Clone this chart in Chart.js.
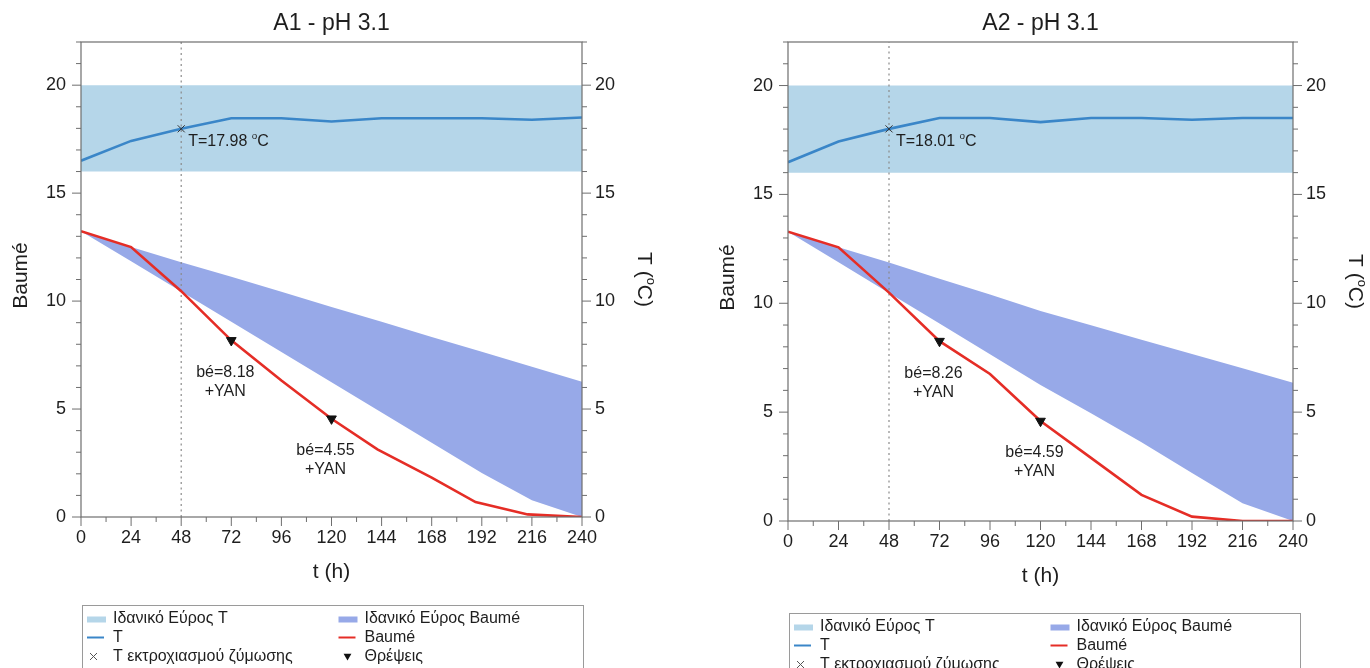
<!DOCTYPE html>
<html>
<head>
<meta charset="utf-8">
<script src="https://cdn.jsdelivr.net/npm/chart.js@4.4.0/dist/chart.umd.min.js"></script>
<style>
  html, body { margin: 0; padding: 0; background: #fff; }
  body { width: 1370px; height: 668px; position: relative; overflow: hidden; }
  .panel { position: absolute; top: 0; width: 685px; height: 668px; }
</style>
</head>
<body>
<div class="panel" style="left:0"><canvas id="chartA1" width="685" height="668"></canvas></div>
<div class="panel" style="left:685px"><canvas id="chartA2" width="685" height="668"></canvas></div>
<script>
// sampling times (h) and axis ticks
const hours = [0, 24, 48, 72, 96, 120, 144, 168, 192, 216, 240];
const xMajorTicks = [0, 24, 48, 72, 96, 120, 144, 168, 192, 216, 240];
const yMajorTicks = [0, 5, 10, 15, 20];
const xMinorStep = 12;
const yMinorStep = 1;
const yMax = 22;

// ideal temperature window (°C)
const tempRange = [16, 20];

// A1 - pH 3.1
const a1Temp = [16.5, 17.42, 17.98, 18.47, 18.47, 18.32, 18.47, 18.47, 18.47, 18.4, 18.5];
const a1BaumeHours = [0, 24, 48, 72, 96, 120, 142, 168, 189, 214, 240];
const a1Baume = [13.24, 12.5, 10.46, 8.18, 6.32, 4.55, 3.13, 1.82, 0.69, 0.12, 0];
const a1BaumeHigh = [13.24, 12.5, 11.8, 11.13, 10.43, 9.73, 9.04, 8.34, 7.65, 6.96, 6.27];
const a1BaumeLow = [13.24, 11.84, 10.44, 9.04, 7.64, 6.24, 4.84, 3.44, 2.04, 0.78, 0];
const a1OnsetHour = 48;
const a1OnsetTemp = 17.98;
const a1FeedHours = [72, 120];
const a1FeedBaume = [8.18, 4.55];

// A2 - pH 3.1
const a2Temp = [16.48, 17.43, 18.01, 18.51, 18.51, 18.32, 18.51, 18.51, 18.43, 18.51, 18.51];
const a2BaumeHours = [0, 24, 48, 72, 96, 120, 144, 168, 192, 216, 240];
const a2Baume = [13.29, 12.57, 10.49, 8.26, 6.75, 4.59, 2.9, 1.2, 0.2, 0, 0];
const a2BaumeHigh = [13.29, 12.57, 11.87, 11.13, 10.4, 9.65, 8.99, 8.33, 7.67, 7.01, 6.35];
const a2BaumeLow = [13.29, 11.88, 10.47, 9.07, 7.66, 6.25, 4.95, 3.62, 2.2, 0.81, 0];
const a2OnsetHour = 48;
const a2OnsetTemp = 18.01;
const a2FeedHours = [72, 120];
const a2FeedBaume = [8.26, 4.59];

const legendLabels = ['Ιδανικό Εύρος T', 'T', 'T εκτροχιασμού ζύμωσης',
                      'Ιδανικό Εύρος Baumé', 'Baumé', 'Θρέψεις'];

const FONT = "'Liberation Sans', Arial, Helvetica, sans-serif";
const COLORS = {
    tempBand: 'rgb(181, 214, 233)',
    baumeBand: 'rgb(151, 169, 232)',
    temp: 'rgb(58, 134, 200)',
    baume: 'rgb(229, 45, 38)',
    frame: '#6e6e6e',
    text: '#1e1e1e'
};

Chart.defaults.font.family = FONT;
Chart.defaults.color = COLORS.text;

const toPoints = (xs, ys) => xs.map((x, i) => ({ x: x, y: ys[i] }));

const stepValues = (min, max, step) => {
    const out = [];
    for (let v = min; v <= max + 1e-9; v += step) out.push(v);
    return out;
};

// text with a raised small "o" for degrees
function drawSupText(ctx, parts, x, y, size, align) {
    const widths = parts.map(([t, sup]) => {
        ctx.font = `${sup ? size * 0.62 : size}px ${FONT}`;
        return ctx.measureText(t).width;
    });
    const total = widths.reduce((a, b) => a + b, 0);
    let cx = align === 'center' ? x - total / 2 : x;
    ctx.textAlign = 'left';
    ctx.textBaseline = 'middle';
    parts.forEach(([t, sup], i) => {
        ctx.font = `${sup ? size * 0.62 : size}px ${FONT}`;
        ctx.fillText(t, cx, sup ? y - size * 0.33 : y);
        cx += widths[i];
    });
}

function drawTriangleDown(ctx, x, y, r) {
    ctx.beginPath();
    ctx.moveTo(x - r * 0.87, y - r * 0.5);
    ctx.lineTo(x + r * 0.87, y - r * 0.5);
    ctx.lineTo(x, y + r);
    ctx.closePath();
    ctx.fill();
}

// frame, outward ticks, titles, annotations and legend
const panelDecor = {
    id: 'panelDecor',
    afterDatasetsDraw(chart) {
        const { ctx, chartArea: a, scales } = chart;
        ctx.save();
        ctx.strokeStyle = COLORS.frame;
        ctx.lineWidth = 1.2;
        ctx.strokeRect(a.left, a.top, a.right - a.left, a.bottom - a.top);

        ctx.lineWidth = 1;
        ctx.beginPath();
        scales.y.ticks.forEach(t => {
            const py = scales.y.getPixelForValue(t.value);
            const len = yMajorTicks.includes(t.value) ? 9 : 5;
            ctx.moveTo(a.left - len, py); ctx.lineTo(a.left, py);
        });
        scales.y2.ticks.forEach(t => {
            const py = scales.y2.getPixelForValue(t.value);
            const len = yMajorTicks.includes(t.value) ? 9 : 5;
            ctx.moveTo(a.right, py); ctx.lineTo(a.right + len, py);
        });
        scales.x.ticks.forEach(t => {
            const px = scales.x.getPixelForValue(t.value);
            const len = xMajorTicks.includes(t.value) ? 9 : 5;
            ctx.moveTo(px, a.bottom); ctx.lineTo(px, a.bottom + len);
        });
        ctx.stroke();
        ctx.restore();
    },
    afterDraw(chart, args, opts) {
        const { ctx, chartArea: a, scales } = chart;
        const cx = (a.left + a.right) / 2;
        const cy = (a.top + a.bottom) / 2;
        ctx.save();
        ctx.fillStyle = COLORS.text;

        // chart title
        ctx.font = `23px ${FONT}`;
        ctx.textAlign = 'center';
        ctx.textBaseline = 'middle';
        ctx.fillText(opts.title, cx, 24);

        // x axis title
        ctx.font = `21px ${FONT}`;
        ctx.fillText('t (h)', cx, a.bottom + 55);

        // left axis title
        ctx.save();
        ctx.translate(a.left - 60, cy - 4);
        ctx.rotate(-Math.PI / 2);
        ctx.font = `21px ${FONT}`;
        ctx.fillText('Baumé', 0, 0);
        ctx.restore();

        // right axis title, read top to bottom
        ctx.save();
        ctx.translate(a.right + 62, cy);
        ctx.rotate(Math.PI / 2);
        drawSupText(ctx, [['T (', false], ['o', true], ['C)', false]], 0, 0, 21, 'center');
        ctx.restore();

        // fermentation onset label
        const ox = scales.x.getPixelForValue(opts.onsetHour);
        const oy = scales.y2.getPixelForValue(opts.onsetTemp);
        drawSupText(ctx, [[`T=${opts.onsetTemp.toFixed(2)} `, false], ['o', true], ['C', false]],
            ox + 7, oy + 13, 16, 'left');

        // nutrient additions
        ctx.font = `16px ${FONT}`;
        ctx.textAlign = 'center';
        ctx.textBaseline = 'middle';
        opts.feedHours.forEach((h, i) => {
            const fx = scales.x.getPixelForValue(h) - 6;
            const fy = scales.y.getPixelForValue(opts.feedBaume[i]);
            ctx.fillText(`bé=${opts.feedBaume[i].toFixed(2)}`, fx, fy + 32);
            ctx.fillText('+YAN', fx, fy + 51);
        });

        // legend box, two columns of three
        const box = { left: a.left + 1, top: opts.legendTop, width: a.right - a.left + opts.legendExtra };
        ctx.strokeStyle = '#9a9a9a';
        ctx.lineWidth = 1;
        ctx.strokeRect(Math.round(box.left) + 0.5, Math.round(box.top) + 0.5, box.width, 90);
        const colX = [box.left + 5, box.left + box.width / 2 + 6];
        legendLabels.forEach((label, i) => {
            const col = Math.floor(i / 3);
            const row = i % 3;
            const sx = colX[col];
            const ly = box.top + 13.5 + row * 19;
            if (row === 0) {
                ctx.fillStyle = col === 0 ? COLORS.tempBand : COLORS.baumeBand;
                ctx.fillRect(sx, ly - 2, 19, 6);
            } else if (row === 1) {
                ctx.strokeStyle = col === 0 ? COLORS.temp : COLORS.baume;
                ctx.lineWidth = 2;
                ctx.beginPath();
                ctx.moveTo(sx, ly); ctx.lineTo(sx + 17, ly);
                ctx.stroke();
            } else if (col === 0) {
                ctx.strokeStyle = '#555';
                ctx.lineWidth = 1;
                ctx.beginPath();
                ctx.moveTo(sx + 3, ly - 3.5); ctx.lineTo(sx + 10, ly + 3.5);
                ctx.moveTo(sx + 10, ly - 3.5); ctx.lineTo(sx + 3, ly + 3.5);
                ctx.stroke();
            } else {
                ctx.fillStyle = '#111';
                drawTriangleDown(ctx, sx + 9, ly - 0.5, 4.5);
            }
            ctx.fillStyle = COLORS.text;
            ctx.font = `16px ${FONT}`;
            ctx.textAlign = 'left';
            ctx.textBaseline = 'middle';
            ctx.fillText(label, sx + 26, ly);
        });
        ctx.restore();
    }
};

function buildChart(canvasId, d) {
    const xMin = xMajorTicks[0];
    const xMax = xMajorTicks[xMajorTicks.length - 1];
    const yScale = (position, width, padding) => ({
        type: 'linear',
        position: position,
        min: 0,
        max: yMax,
        grid: { display: false, drawTicks: false },
        border: { display: false },
        afterBuildTicks: s => { s.ticks = stepValues(0, yMax, yMinorStep).map(v => ({ value: v })); },
        afterFit: s => { s.width = width; },
        ticks: {
            autoSkip: false,
            padding: padding,
            font: { size: 18 },
            callback: v => (yMajorTicks.includes(v) ? String(v) : '')
        }
    });

    return new Chart(document.getElementById(canvasId), {
        type: 'line',
        data: {
            datasets: [
                {   // 0: lower edge of the temperature window
                    data: toPoints([xMin, xMax], [tempRange[0], tempRange[0]]),
                    yAxisID: 'y2', borderWidth: 0, pointRadius: 0, fill: false, order: 6
                },
                {   // 1: upper edge, filled down to dataset 0
                    data: toPoints([xMin, xMax], [tempRange[1], tempRange[1]]),
                    yAxisID: 'y2', borderWidth: 0, pointRadius: 0,
                    fill: { target: 0 }, backgroundColor: COLORS.tempBand, order: 6
                },
                {   // 2: lower edge of the Baumé window
                    data: toPoints(hours, d.baumeLow),
                    yAxisID: 'y', borderWidth: 0, pointRadius: 0, fill: false, order: 5
                },
                {   // 3: upper edge, filled down to dataset 2
                    data: toPoints(hours, d.baumeHigh),
                    yAxisID: 'y', borderWidth: 0, pointRadius: 0,
                    fill: { target: 2 }, backgroundColor: COLORS.baumeBand, order: 5
                },
                {   // 4: fermentation onset marker line
                    data: toPoints([d.onsetHour, d.onsetHour], [0, yMax]),
                    yAxisID: 'y', borderColor: '#8a8a8a', borderWidth: 1.2,
                    borderDash: [2, 3.5], pointRadius: 0, fill: false, order: 4
                },
                {   // 5: temperature
                    data: toPoints(hours, d.temp),
                    yAxisID: 'y2', borderColor: COLORS.temp, borderWidth: 2.6,
                    pointRadius: 0, fill: false, tension: 0, order: 3
                },
                {   // 6: Baumé
                    data: toPoints(d.baumeHours, d.baume),
                    yAxisID: 'y', borderColor: COLORS.baume, borderWidth: 2.6,
                    pointRadius: 0, fill: false, tension: 0, order: 2
                },
                {   // 7: onset point
                    data: toPoints([d.onsetHour], [d.onsetTemp]),
                    yAxisID: 'y2', showLine: false, pointStyle: 'crossRot',
                    pointRadius: 5, borderColor: '#333', borderWidth: 1, order: 1
                },
                {   // 8: nutrient additions
                    data: toPoints(d.feedHours, d.feedBaume),
                    yAxisID: 'y', showLine: false, pointStyle: 'triangle', rotation: 180,
                    pointRadius: 5.6, backgroundColor: '#111', borderColor: '#111',
                    borderWidth: 1, order: 0
                }
            ]
        },
        options: {
            responsive: false,
            animation: false,
            layout: { padding: { left: d.padLeft, right: d.padRight, top: d.padTop, bottom: d.padBottom } },
            scales: {
                x: {
                    type: 'linear',
                    min: xMin,
                    max: xMax,
                    grid: { display: false, drawTicks: false },
                    border: { display: false },
                    afterBuildTicks: s => { s.ticks = stepValues(xMin, xMax, xMinorStep).map(v => ({ value: v })); },
                    afterFit: s => { s.height = 40; },
                    ticks: {
                        autoSkip: false,
                        maxRotation: 0,
                        padding: 10,
                        font: { size: 18 },
                        callback: v => (xMajorTicks.includes(v) ? String(v) : '')
                    }
                },
                y: yScale('left', d.leftAxisWidth, 15),
                y2: yScale('right', d.rightAxisWidth, 13)
            },
            plugins: {
                legend: { display: false },
                tooltip: { enabled: false },
                panelDecor: {
                    title: d.title,
                    onsetHour: d.onsetHour,
                    onsetTemp: d.onsetTemp,
                    feedHours: d.feedHours,
                    feedBaume: d.feedBaume,
                    legendTop: d.legendTop,
                    legendExtra: d.legendExtra
                }
            }
        },
        plugins: [panelDecor]
    });
}

buildChart('chartA1', {
    title: 'A1 - pH 3.1',
    temp: a1Temp, baumeHours: a1BaumeHours, baume: a1Baume,
    baumeHigh: a1BaumeHigh, baumeLow: a1BaumeLow,
    onsetHour: a1OnsetHour, onsetTemp: a1OnsetTemp,
    feedHours: a1FeedHours, feedBaume: a1FeedBaume,
    padLeft: 0, padRight: 0, padTop: 42, padBottom: 111,
    leftAxisWidth: 81, rightAxisWidth: 103,
    legendTop: 605, legendExtra: 0
});

buildChart('chartA2', {
    title: 'A2 - pH 3.1',
    temp: a2Temp, baumeHours: a2BaumeHours, baume: a2Baume,
    baumeHigh: a2BaumeHigh, baumeLow: a2BaumeLow,
    onsetHour: a2OnsetHour, onsetTemp: a2OnsetTemp,
    feedHours: a2FeedHours, feedBaume: a2FeedBaume,
    padLeft: 0, padRight: 0, padTop: 42, padBottom: 107,
    leftAxisWidth: 103, rightAxisWidth: 77,
    legendTop: 613, legendExtra: 6
});
</script>
</body>
</html>
